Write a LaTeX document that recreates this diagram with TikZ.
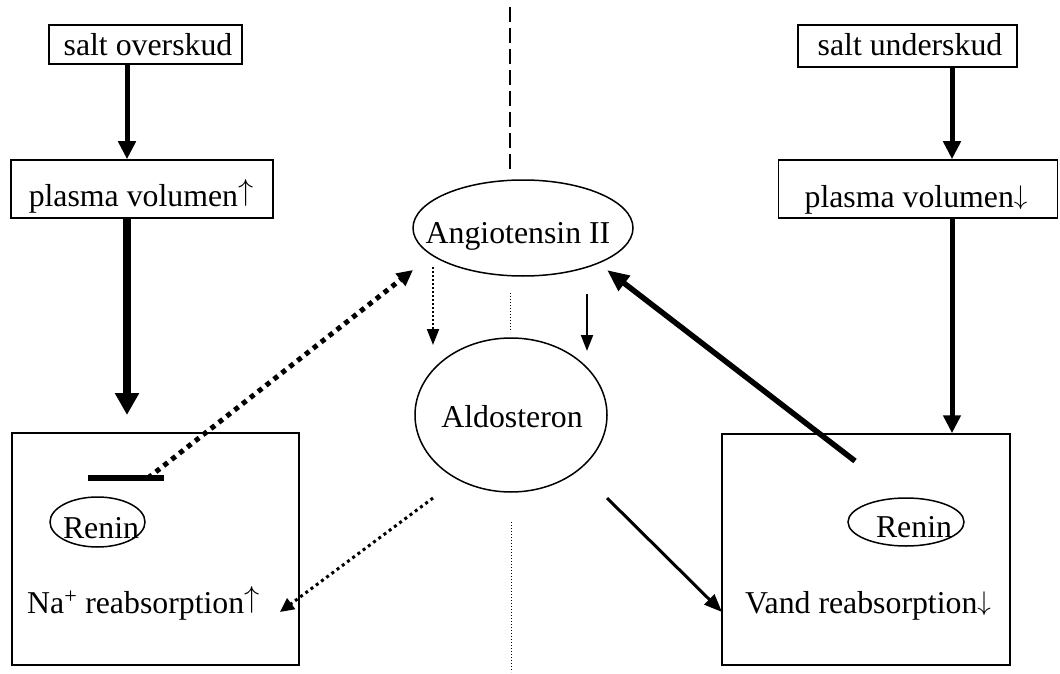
\documentclass[tikz,border=0pt]{standalone}
\usepackage{fontspec}
\setmainfont{Liberation Serif}
\usetikzlibrary{arrows.meta,shapes.geometric}
\newcommand{\upar}{\raisebox{6pt}{\resizebox*{!}{27pt}{$\uparrow$}}}
\newcommand{\dnar}{\raisebox{3pt}{\resizebox*{!}{24pt}{$\downarrow$}}}
\begin{document}
\begin{tikzpicture}[x=1pt,y=-1pt,
  box/.style={draw, line width=1.5pt, rectangle, inner sep=0pt},
  oval/.style={draw, line width=1.5pt, ellipse, inner sep=0pt},
  txt/.style={anchor=base, inner sep=0pt, font=\fontsize{31.8}{38}\selectfont},
  txtw/.style={anchor=base west, inner sep=0pt, font=\fontsize{31.8}{38}\selectfont},
  bigarrow/.style={line width=5pt, -{Triangle[width=17pt,length=18pt]}},
  hugearrow/.style={line width=8pt, -{Triangle[width=23pt,length=22pt]}},
  longarrow/.style={line width=5.5pt, -{Triangle[width=18pt,length=22pt]}},
  midarrow/.style={line width=3pt, -{Triangle[width=14pt,length=18pt]}},
  thinarrow/.style={line width=2pt, -{Triangle[width=12pt,length=16pt]}},
  thickdots/.style={line width=5pt, dash pattern=on 5pt off 5pt, -{Triangle[width=15pt,length=16pt]}},
  middots/.style={line width=3pt, dash pattern=on 3pt off 3.5pt, -{Triangle[width=13pt,length=14pt]}},
  thindots/.style={line width=2pt, dash pattern=on 2pt off 2pt, -{Triangle[width=12pt,length=16pt]}},
  divdash/.style={line width=1.5pt, dash pattern=on 15pt off 6pt},
  divdots/.style={line width=1pt, dash pattern=on 1pt off 2pt}]
\useasboundingbox (0,0) rectangle (1060,674);

% boxes
\node[box, minimum width=193pt, minimum height=39pt] (so) at (145.5,44.5) {};
\node[box, minimum width=262pt, minimum height=58pt] (pvu) at (142,189) {};
\node[box, minimum width=219pt, minimum height=42pt] (su) at (907.5,46) {};
\node[box, minimum width=279pt, minimum height=58pt] (pvd) at (918,189) {};
\node[box, minimum width=287pt, minimum height=232pt] (lbox) at (155.5,549) {};
\node[box, minimum width=288pt, minimum height=231pt] (rbox) at (866,549.5) {};

% ellipses
\node[oval, minimum width=220pt, minimum height=96pt] (ang) at (523,228) {};
\node[oval, minimum width=192pt, minimum height=154pt] (ald) at (511,415) {};
\node[oval, minimum width=95pt, minimum height=50pt] (renL) at (97.5,522) {};
\node[oval, minimum width=116pt, minimum height=48pt] (renR) at (906,522) {};

% texts
\node[txt] (tso) at (148,56) {salt overskud};
\node[txt] (tpvu) at (141,206) {plasma volumen\upar};
\node[txt] (tsu) at (910,56) {salt underskud};
\node[txt] (tpvd) at (916,207) {plasma volumen\dnar};
\node[txt] (tang) at (518,243) {Angiotensin II};
\node[txt] (tald) at (512,427) {Aldosteron};
\node[txt] (trenL) at (101,538) {Renin};
\node[txt] (trenR) at (914,537) {Renin};
\node[txtw] (tna) at (27,613) {Na\textsuperscript{+} reabsorption\upar};
\node[txtw] (tvand) at (745,613) {Vand reabsorption\dnar};

% free ends
\coordinate (a2end) at (127,415);
\coordinate (inhL) at (88,478);
\coordinate (inhR) at (164,478);
\coordinate (inhM) at (148,478);
\coordinate (angTipL) at (413,270);
\coordinate (dA) at (433,267);
\coordinate (dB) at (433,345);
\coordinate (sA) at (587,294);
\coordinate (sB) at (587,351);
\coordinate (rStart) at (855,461);
\coordinate (angTipR) at (607,270);
\coordinate (aldR) at (607,498);
\coordinate (vandTip) at (722,612);
\coordinate (aldL) at (433,498);
\coordinate (naTip) at (280,612);
\coordinate (d1a) at (510,7);
\coordinate (d1b) at (510,173);
\coordinate (d2a) at (510,293);
\coordinate (d2b) at (510,332);
\coordinate (d3a) at (511,522);
\coordinate (d3b) at (511,672);

% divider lines
\draw[divdash] (d1a) -- (d1b);
\draw[divdots] (d2a) -- (d2b);
\draw[divdots] (d3a) -- (d3b);

% connectors
\draw[bigarrow] ([xshift=-18.5pt]so.south) -- ([xshift=-15pt]pvu.north);
\draw[hugearrow] ([xshift=-15pt]pvu.south) -- (a2end);
\draw[bigarrow] ([xshift=44.5pt]su.south) -- ([xshift=34pt]pvd.north);
\draw[bigarrow] ([xshift=34pt]pvd.south) -- ([xshift=86pt]rbox.north);

\draw[line width=6pt] (inhL) -- (inhR);
\draw[thickdots] (inhM) -- (angTipL);

\draw[thindots] (dA) -- (dB);
\draw[thinarrow] (sA) -- (sB);
\draw[longarrow] (rStart) -- (angTipR);
\draw[midarrow] (aldR) -- (vandTip);
\draw[middots] (aldL) -- (naTip);
\end{tikzpicture}
\end{document}
